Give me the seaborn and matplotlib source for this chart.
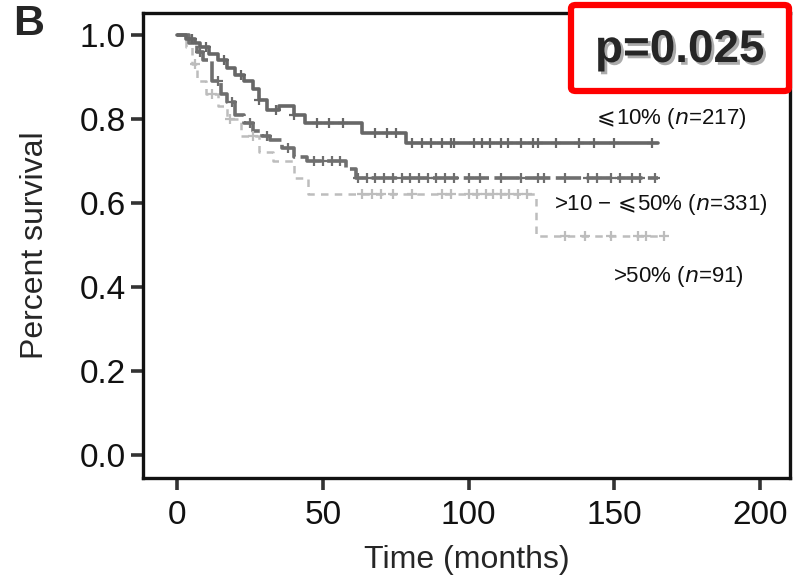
import matplotlib

matplotlib.use("Agg")
import matplotlib.pyplot as plt
import matplotlib.patheffects as pe
import numpy as np
import pandas as pd
import seaborn as sns
from matplotlib.patches import FancyBboxPatch

# Kaplan-Meier steps (time in months, survival fraction)
t_low = [0, 3, 6, 8, 11, 14, 17, 20, 23, 26, 28, 31, 35, 40, 44, 61.5, 63.5, 76, 78.5, 165]
s_low = [1.0, 0.99, 0.98, 0.97, 0.955, 0.94, 0.92, 0.905, 0.89, 0.87, 0.845, 0.82, 0.83, 0.81, 0.79, 0.79, 0.767, 0.767, 0.743, 0.743]

t_mid = [0, 4, 7, 9, 12, 15, 17, 20, 23, 26, 29, 32, 36, 40, 44.5, 52, 58, 61.5, 165]
s_mid = [1.0, 0.98, 0.96, 0.94, 0.89, 0.86, 0.84, 0.81, 0.79, 0.77, 0.76, 0.75, 0.73, 0.71, 0.70, 0.70, 0.68, 0.66, 0.66]

t_high = [0, 3, 5, 7, 10, 14, 17, 22, 28, 33, 40, 45, 123, 167]
s_high = [1.0, 0.97, 0.93, 0.89, 0.86, 0.83, 0.80, 0.76, 0.72, 0.70, 0.66, 0.62, 0.52, 0.52]

# Censored observations (months)
cens_low = [5, 10, 16, 22, 28, 34, 40, 48, 52, 57, 68, 72, 75, 80.5, 84, 87, 91, 94, 95,
            102, 104.5, 107.5, 111, 113.5, 118, 122, 124, 130, 138, 143, 150, 163]
cens_mid = [8, 14, 19, 25, 31, 38, 47, 50, 53, 56, 62, 65, 68, 71, 74, 77, 80, 83, 86, 89,
            92, 95, 100, 104, 111, 118, 124, 126, 133, 141, 144, 149, 152, 156, 159, 164]
cens_high = [6, 12, 18, 26, 63.5, 67, 70, 74, 80.5, 91, 94, 100, 103, 106, 108.5, 111, 114,
             117, 120, 133, 140, 149, 158, 161, 167]

group_labels = ["$\\!\\leqslant\\!$10% ($\\it{n}$=217)",
                ">10 \u2212 $\\!\\leqslant\\!$50% ($\\it{n}$=331)",
                ">50% ($\\it{n}$=91)"]
label_pos = [(169.5, 0.80), (166, 0.595), (172, 0.424)]

x_ticks = [0, 50, 100, 150, 200]
y_ticks = [0.0, 0.2, 0.4, 0.6, 0.8, 1.0]
p_text = "p=0.025"

sns.set_style("white")
plt.rcParams["font.family"] = ["Liberation Sans", "DejaVu Sans"]
plt.rcParams["mathtext.fontset"] = "dejavusans"
plt.rcParams["mathtext.fallback"] = "stixsans"


def step_value(times, surv, t):
    idx = np.searchsorted(times, t, side="right") - 1
    return np.asarray(surv)[np.clip(idx, 0, len(surv) - 1)]


fig = plt.figure(figsize=(7.94, 5.79), dpi=100)
ax = fig.add_axes([143 / 794, 1 - 478 / 579, (790 - 143) / 794, (478 - 13) / 579])

groups = [
    (t_low, s_low, cens_low, "#676767", "-", 2.6),
    (t_mid, s_mid, cens_mid, "#6f6f6f", (0, (7, 1.5)), 2.6),
    (t_high, s_high, cens_high, "#bdbdbd", (0, (3, 2.5)), 1.8),
]
for times, surv, cens, color, ls, lw in groups[::-1]:
    df = pd.DataFrame({"time": times, "surv": surv})
    sns.lineplot(data=df, x="time", y="surv", ax=ax, estimator=None, sort=False,
                 drawstyle="steps-post", color=color, linestyle=ls, linewidth=lw)
    cdf = pd.DataFrame({"time": cens, "surv": step_value(times, surv, np.asarray(cens))})
    sns.scatterplot(data=cdf, x="time", y="surv", ax=ax, marker="+", s=50,
                    color=color, linewidth=1.6, zorder=3)

for text, (x, y) in zip(group_labels, label_pos):
    ax.text(x, y, text, ha="center", va="center", fontsize=16, color="#111111")

ax.set_xlim(-11.7, 210.3)
ax.set_ylim(-0.055, 1.052)
ax.set_xticks(x_ticks)
ax.set_yticks(y_ticks)
ax.set_xticklabels([str(v) for v in x_ticks])
ax.set_yticklabels([f"{v:.1f}" for v in y_ticks])
ax.tick_params(axis="both", direction="out", length=8.5, width=2.6, color="#333333",
               labelsize=24, labelcolor="#111111", left=True, bottom=True)
ax.tick_params(axis="y", pad=4)
ax.tick_params(axis="x", pad=7)
for sp in ax.spines.values():
    sp.set_visible(True)
    sp.set_color("#111111")
    sp.set_linewidth(2.4)
ax.set_xlabel("Time (months)", fontsize=23)
ax.set_ylabel("Percent survival", fontsize=23)
ax.xaxis.set_label_coords(0.5, (478 - 545) / 465)
ax.yaxis.set_label_coords((50 - 143) / 647, (478 - 245) / 465)

# panel letter
fig.text(13 / 794, 1 - 24 / 579, "B", fontsize=31, fontweight="bold", va="center", ha="left")

# p-value box
box = FancyBboxPatch((571 / 794, 1 - 91 / 579), 218 / 794, 86 / 579,
                     boxstyle="round,pad=0,rounding_size=0.006", transform=fig.transFigure,
                     facecolor="white", edgecolor="#ff0000", linewidth=4.5, zorder=10)
fig.add_artist(box)
fig.text(680 / 794, 1 - 50 / 579, p_text, fontsize=33, fontweight="bold", ha="center",
         va="center", zorder=11,
         path_effects=[pe.withSimplePatchShadow(offset=(2, -2), shadow_rgbFace="#888888", alpha=0.7)])

fig.savefig("out.png", dpi=100)
